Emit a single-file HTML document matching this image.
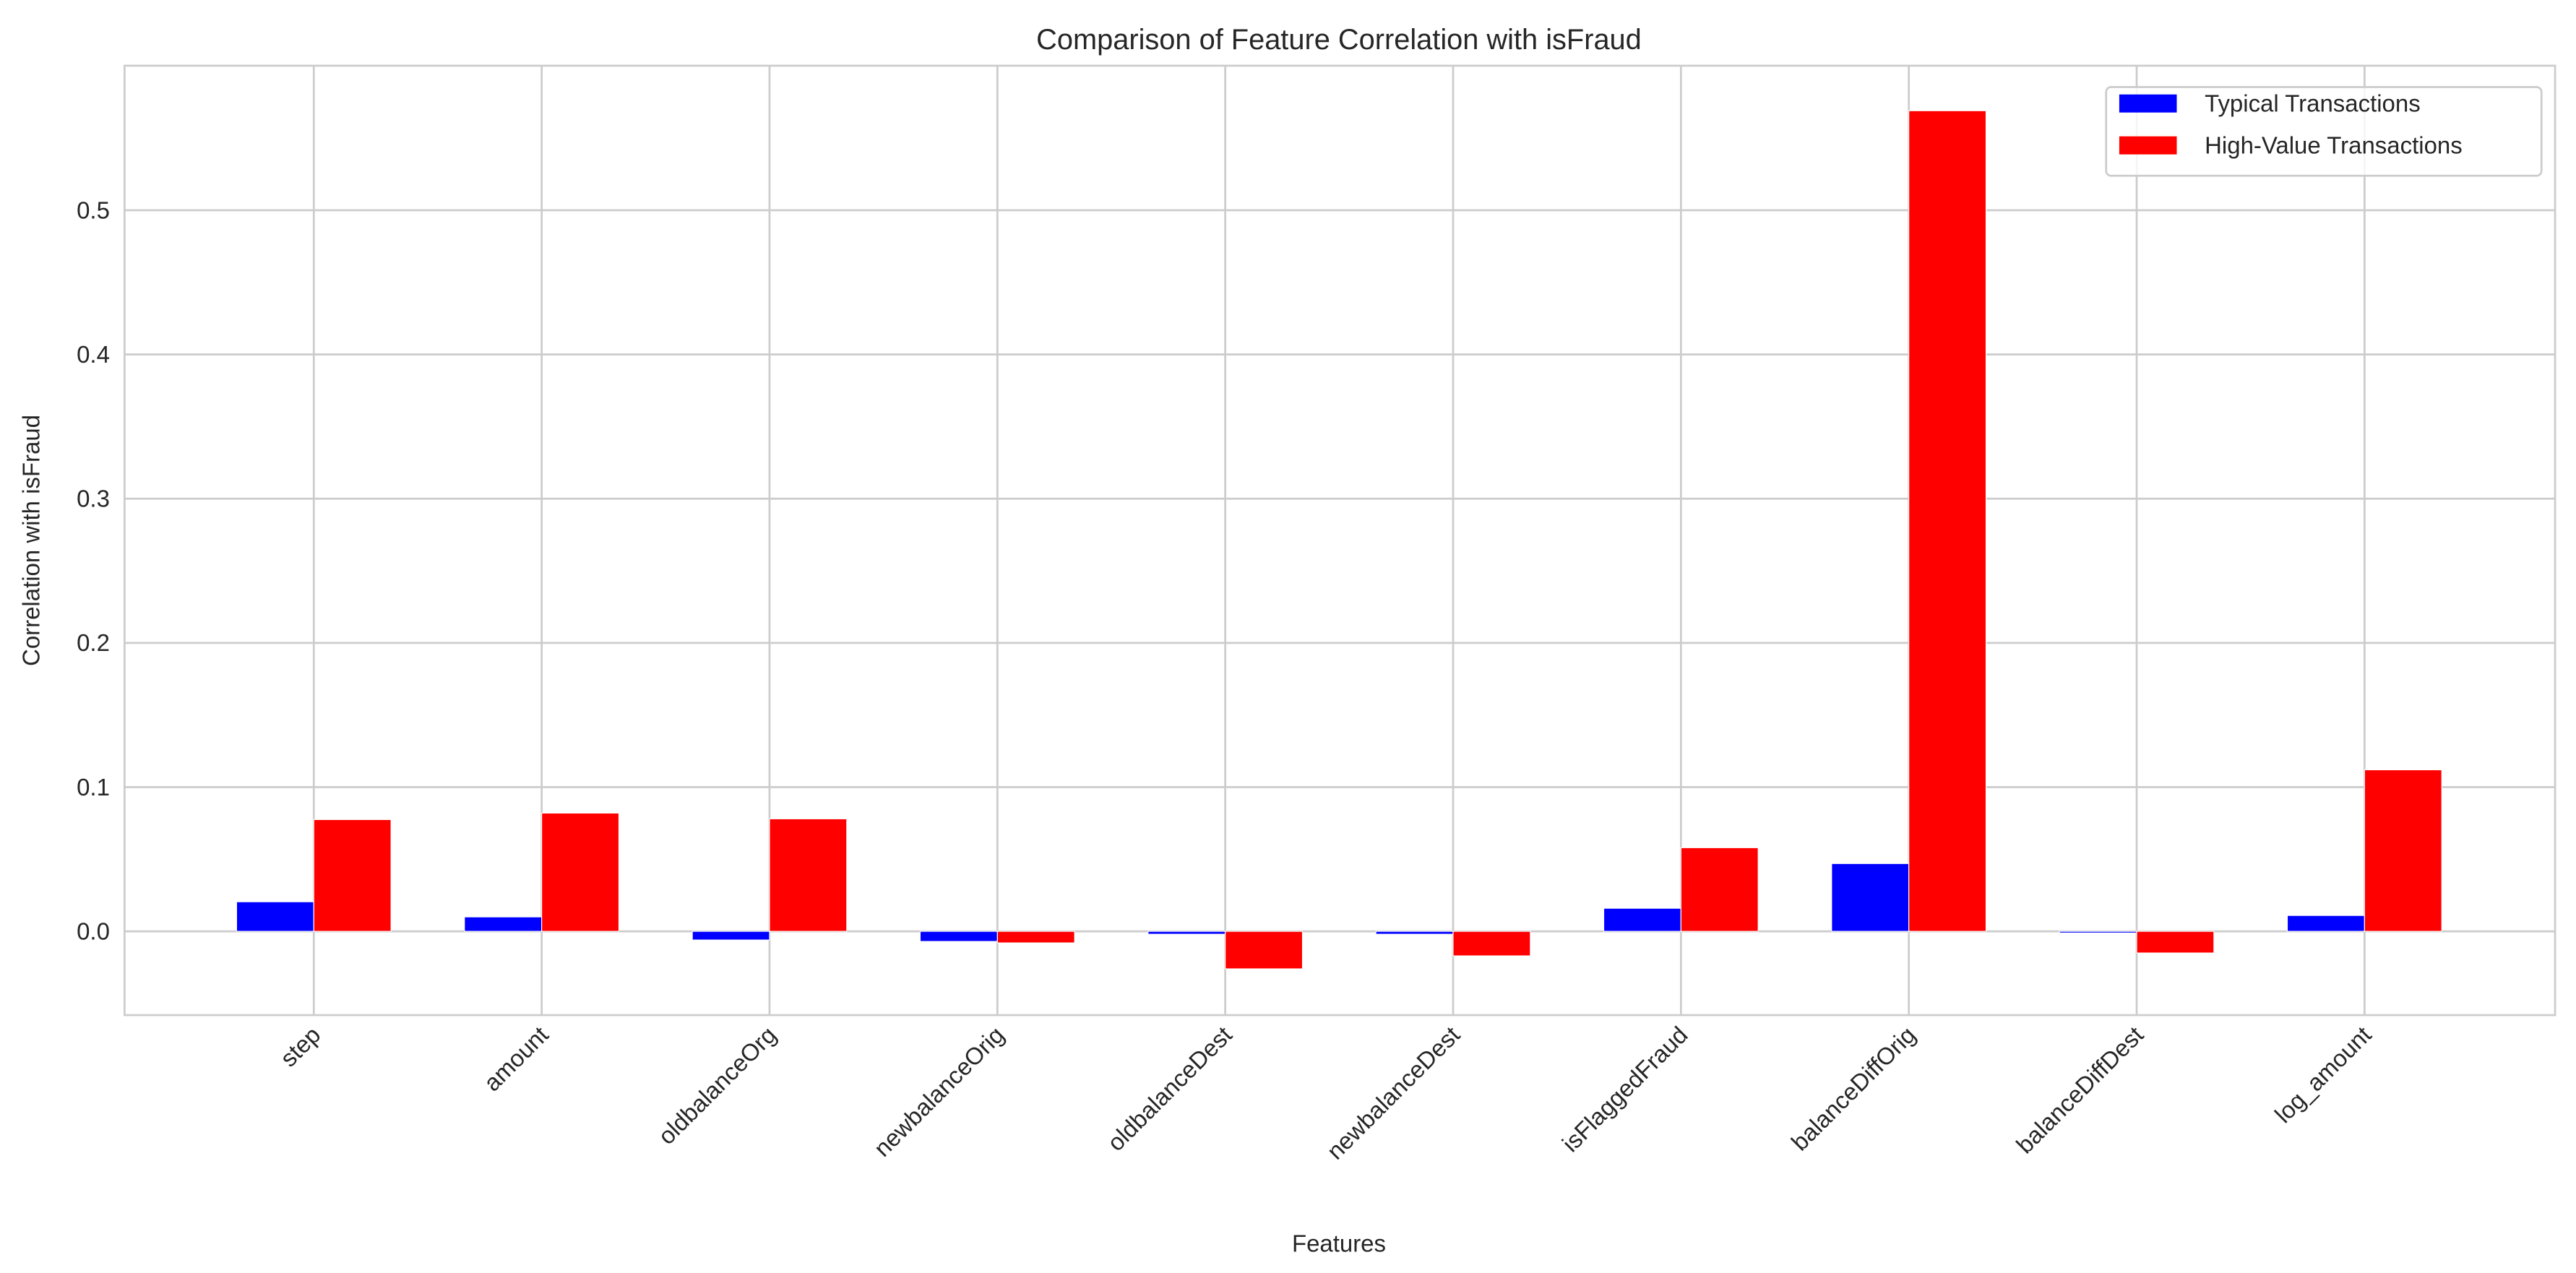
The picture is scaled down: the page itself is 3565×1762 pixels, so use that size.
<!DOCTYPE html>
<html><head><meta charset="utf-8"><style>
html,body{margin:0;padding:0;background:#fff}
svg{display:block}
text{font-family:"Liberation Sans",sans-serif;fill:#262626}
</style></head><body>
<svg id="chart" width="3565" height="1762" viewBox="0 0 1568 775" xmlns="http://www.w3.org/2000/svg">
<rect x="0" y="0" width="1568" height="775" fill="#fff"/>
<g id="grid"></g>
<g id="bars"></g>
<rect x="75.8" y="40" width="1479.5" height="578" fill="none" stroke="#cccccc" stroke-width="1.2"/>
<g id="labels"></g>
<text x="815" y="30" font-size="17.5" text-anchor="middle">Comparison of Feature Correlation with isFraud</text>
<text x="815" y="762" font-size="14.5" text-anchor="middle">Features</text>
<text transform="translate(24,329) rotate(-90)" font-size="14.5" text-anchor="middle">Correlation with isFraud</text>
<g>
<rect x="1282" y="53" width="265" height="54" rx="3" fill="#fff" fill-opacity="0.8" stroke="#cccccc" stroke-width="1.2"/>
<rect x="1290" y="57.5" width="35" height="11" fill="#0000ff"/>
<text x="1342" y="68" font-size="14.5">Typical Transactions</text>
<rect x="1290" y="83" width="35" height="11" fill="#ff0000"/>
<text x="1342" y="93.5" font-size="14.5">High-Value Transactions</text>
</g>
</svg>
<script>
const categories = ["step","amount","oldbalanceOrg","newbalanceOrig","oldbalanceDest","newbalanceDest","isFlaggedFraud","balanceDiffOrig","balanceDiffDest","log_amount"];
const typicalValues = [0.0205,0.010,-0.006,-0.007,-0.002,-0.002,0.016,0.047,-0.001,0.011];
const highValueValues = [0.0775,0.082,0.078,-0.008,-0.026,-0.017,0.058,0.569,-0.015,0.112];
const yTicks = [0.0,0.1,0.2,0.3,0.4,0.5];
const yTickLabels = ["0.0","0.1","0.2","0.3","0.4","0.5"];

const NS="http://www.w3.org/2000/svg";
const plotLeft=75.8,plotRight=1555.3,plotTop=40,plotBottom=618;
function yPos(v){return 567-v*878;}
function xPos(i){return 191+i*138.7;}
const barW=47;
const gridG=document.getElementById('grid'),barsG=document.getElementById('bars'),labelsG=document.getElementById('labels');
function mk(tag,attrs,parent){const e=document.createElementNS(NS,tag);for(const k in attrs)e.setAttribute(k,attrs[k]);parent.appendChild(e);return e;}
yTicks.forEach((v,i)=>{
  const l=mk('line',{x1:plotLeft,x2:plotRight,y1:yPos(v),y2:yPos(v),stroke:'#cccccc','stroke-width':1.2},gridG);
  
  
  const t=mk('text',{x:plotLeft-9,y:yPos(v)+5,'font-size':14.5,'text-anchor':'end'},labelsG);
  t.textContent=yTickLabels[i];
  
  
});
categories.forEach((c,i)=>{
  const x=xPos(i);
  const l=mk('line',{x1:x,x2:x,y1:plotTop,y2:plotBottom,stroke:'#cccccc','stroke-width':1.2},gridG);
  
  
  const v1=typicalValues[i],v2=highValueValues[i];
  const b1=mk('rect',{x:x-barW,y:Math.min(yPos(0),yPos(v1)),width:barW,height:Math.max(1,Math.abs(yPos(v1)-yPos(0))),fill:'#0000ff',stroke:'#fff','stroke-width':0.5},barsG);
  
  
  const b2=mk('rect',{x:x,y:Math.min(yPos(0),yPos(v2)),width:barW,height:Math.abs(yPos(v2)-yPos(0)),fill:'#ff0000',stroke:'#fff','stroke-width':0.5},barsG);
  
  
  const t=mk('text',{transform:`translate(${x+5},${631}) rotate(-45)`,'font-size':14.5,'text-anchor':'end'},labelsG);
  t.textContent=c;
  
  
});
</script>
</body></html>
